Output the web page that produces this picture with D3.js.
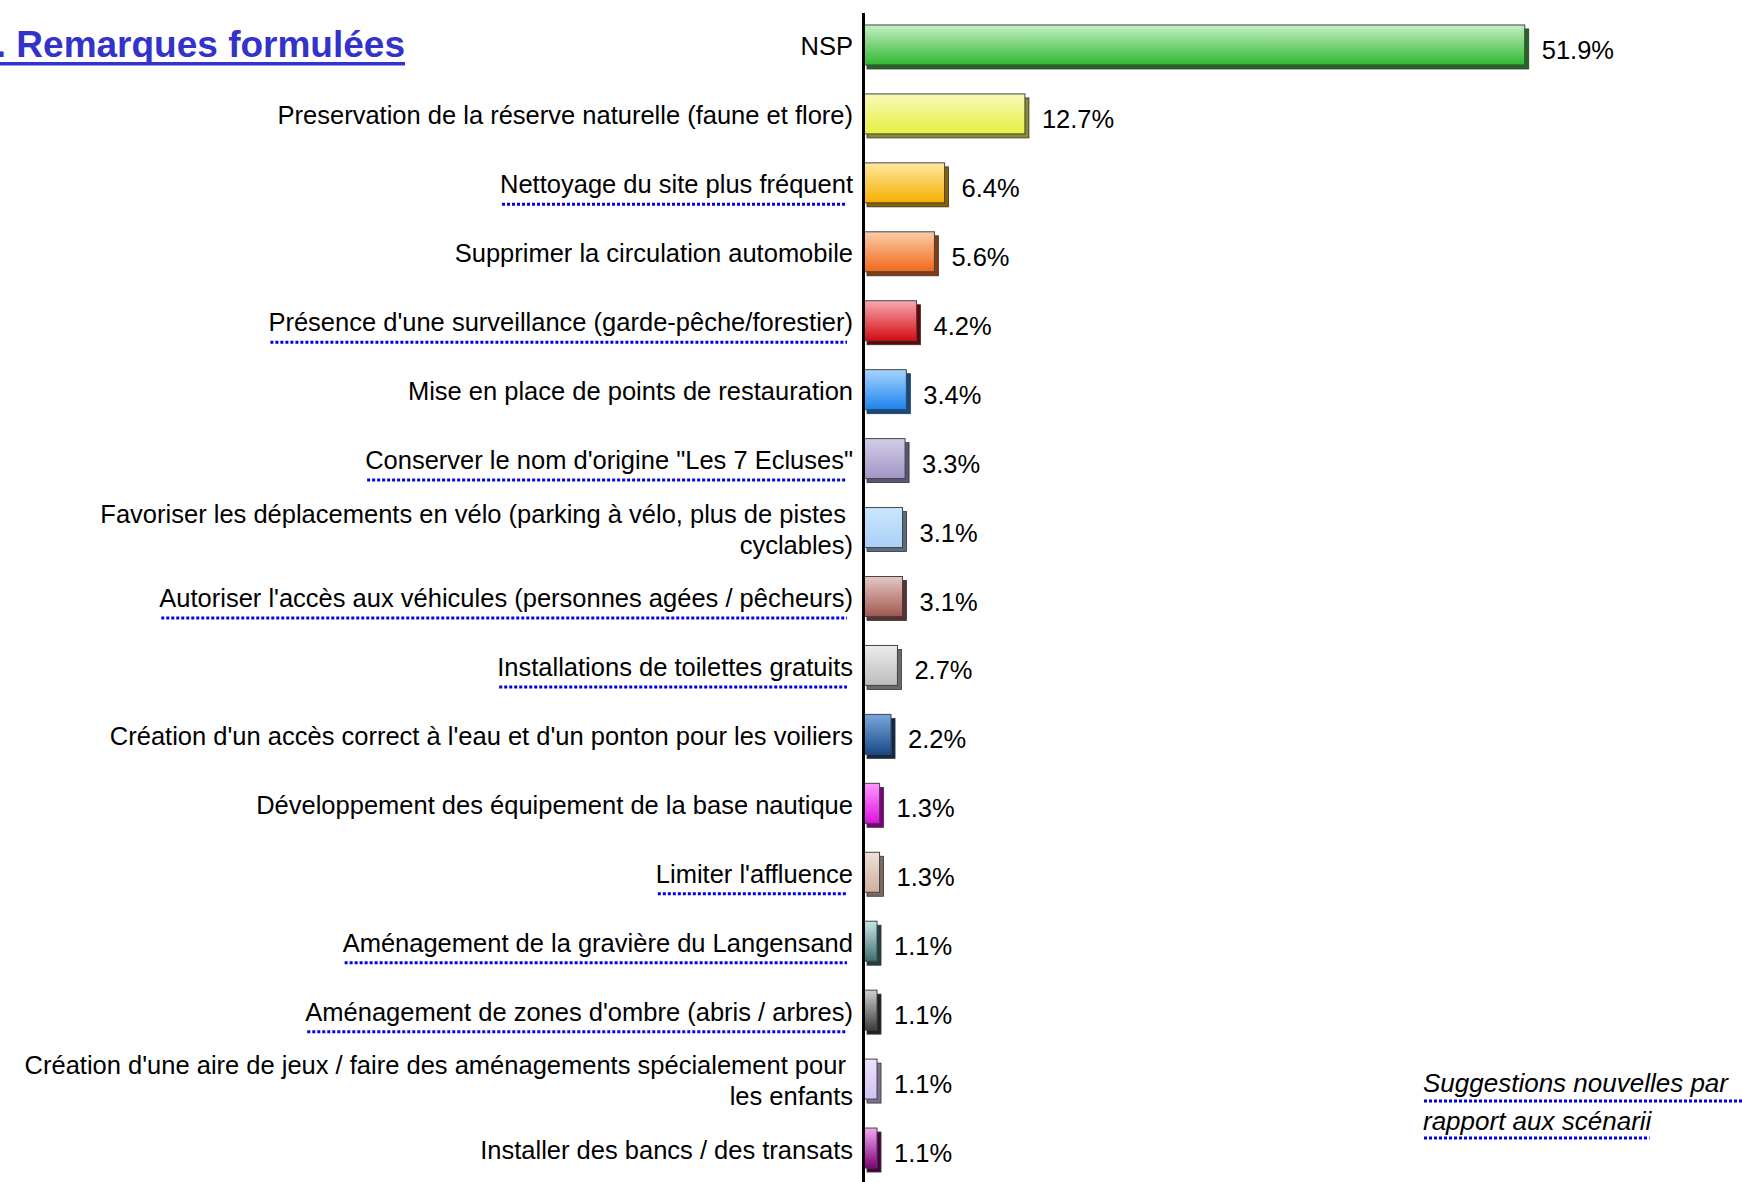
<!DOCTYPE html>
<html>
<head>
<meta charset="utf-8">
<script src="https://cdn.jsdelivr.net/npm/d3@7"></script>
<style>
  body { margin: 0; background: #fff; }
  svg { display: block; font-family: "Liberation Sans", Arial, sans-serif; }
</style>
</head>
<body>
<div class="board"></div>
<script>
// DATA
var categories = [
  "NSP",
  "Preservation de la réserve naturelle (faune et flore)",
  "Nettoyage du site plus fréquent",
  "Supprimer la circulation automobile",
  "Présence d'une surveillance (garde-pêche/forestier)",
  "Mise en place de points de restauration",
  "Conserver le nom d'origine \"Les 7 Ecluses\"",
  "Favoriser les déplacements en vélo (parking à vélo, plus de pistes |cyclables)",
  "Autoriser l'accès aux véhicules (personnes agées / pêcheurs)",
  "Installations de toilettes gratuits",
  "Création d'un accès correct à l'eau et d'un ponton pour les voiliers",
  "Développement des équipement de la base nautique",
  "Limiter l'affluence",
  "Aménagement de la gravière du Langensand",
  "Aménagement de zones d'ombre (abris / arbres)",
  "Création d'une aire de jeux / faire des aménagements spécialement pour |les enfants",
  "Installer des bancs / des transats"
];
var values = [51.9, 12.7, 6.4, 5.6, 4.2, 3.4, 3.3, 3.1, 3.1, 2.7, 2.2, 1.3, 1.3, 1.1, 1.1, 1.1, 1.1];
// suggestions nouvelles (souligné en pointillé)
var isNew = [false, false, true, false, true, false, true, false, true, true, false, false, true, true, true, false, false];
var topColors = ["#c4f0c4", "#f6f9b8", "#ffe8a0", "#fcccaa", "#f8a8b0", "#a8d4ff", "#d4cce8", "#cce6ff", "#e4c8c4", "#ececec", "#78a8dc", "#ff98ff", "#f0e0d8", "#c8e6e6", "#d0d0d0", "#ece2fa", "#f4a8f4"];
var bottomColors = ["#30b830", "#e8f040", "#f4b000", "#f06818", "#d40c10", "#1a84ee", "#a096c4", "#a8d0f6", "#a05850", "#bcbcbc", "#184a86", "#e010e0", "#cfae9e", "#3e6e6e", "#3c3c3c", "#d2c2ee", "#80007a"];
var sideColors = ["#1e6a1e", "#8a8a30", "#8a6000", "#8a3a10", "#700008", "#0e4a90", "#5a5478", "#5a6a80", "#5a3030", "#6a6a6a", "#0a2a50", "#800080", "#7a6a60", "#234040", "#222222", "#7a7090", "#4a0046"];
var noteLines = ["Suggestions nouvelles par", "rapport aux scénarii"];
var title = "3. Remarques formulées";

var width = 1742, height = 1182;
var axisX = 863;

var svg = d3.select('.board').append('svg')
  .attr('width', width)
  .attr('height', height);

var defs = svg.append('defs');
categories.forEach(function (c, i) {
  var g = defs.append('linearGradient')
    .attr('id', 'grad' + i)
    .attr('x1', 0).attr('y1', 0).attr('x2', 0).attr('y2', 1);
  g.append('stop').attr('offset', '0%').attr('stop-color', topColors[i]);
  g.append('stop').attr('offset', '100%').attr('stop-color', bottomColors[i]);
});

// SCALES
var x = d3.scaleLinear().domain([0, 60]).range([axisX, axisX + 765]);
var y = d3.scaleBand()
  .domain(d3.range(categories.length))
  .range([12.5, 1184.5])
  .paddingInner(0.42)
  .paddingOuter(0.21);

var depth = 4;

// BARS
var bars = svg.selectAll('g.bar')
  .data(values)
  .enter()
  .append('g')
  .attr('class', 'bar');

// shadow / 3d side
bars.append('rect')
  .attr('x', function (d, i) { return x(0) + depth; })
  .attr('y', function (d, i) { return y(i) - 2 + depth; })
  .attr('width', function (d) { return x(d) - x(0); })
  .attr('height', y.bandwidth())
  .attr('fill', function (d, i) { return sideColors[i]; })
  .attr('stroke', '#333')
  .attr('stroke-width', 0.8);

bars.append('rect')
  .attr('x', x(0))
  .attr('y', function (d, i) { return y(i) - 2; })
  .attr('width', function (d) { return x(d) - x(0); })
  .attr('height', y.bandwidth())
  .attr('fill', function (d, i) { return 'url(#grad' + i + ')'; })
  .attr('stroke', '#444')
  .attr('stroke-width', 1);

// value labels
svg.selectAll('text.value')
  .data(values)
  .enter()
  .append('text')
  .attr('class', 'value')
  .attr('x', function (d) { return x(d) + 17; })
  .attr('y', function (d, i) { return y(i) + y.bandwidth() / 2 + 12; })
  .attr('font-size', 25.5)
  .attr('fill', '#000')
  .text(function (d) { return d.toFixed(1) + '%'; });

// AXIS
var axis = svg.append('g')
  .attr('transform', 'translate(' + axisX + ',0)')
  .call(d3.axisLeft(y).tickSize(0).tickSizeOuter(0).tickFormat(''));
axis.select('.domain').attr('stroke', '#000').attr('stroke-width', 3);

// category labels
var labelX = 853;
var lineH = 31;
categories.forEach(function (c, i) {
  var lines = c.split('|');
  var cy = y(i) + y.bandwidth() / 2;
  var first = cy - (lines.length - 1) * lineH / 2 + 8.5;
  var t = svg.append('text')
    .attr('text-anchor', 'end')
    .attr('font-size', 25.5)
    .attr('fill', '#000');
  lines.forEach(function (l, k) {
    t.append('tspan')
      .attr('x', labelX)
      .attr('y', first + k * lineH)
      .attr('xml:space', 'preserve')
      .style('white-space', 'pre')
      .text(l);
  });
  if (isNew[i]) {
    var bb = t.node().getBBox();
    svg.append('line')
      .attr('x1', bb.x + 2)
      .attr('x2', labelX - 6)
      .attr('y1', first + 11)
      .attr('y2', first + 11)
      .attr('stroke', '#0000ee')
      .attr('stroke-width', 3)
      .attr('stroke-dasharray', '3 2');
  }
});

// TITLE
var tt = svg.append('text')
  .attr('x', 405)
  .attr('y', 57)
  .attr('text-anchor', 'end')
  .attr('font-size', 37)
  .attr('font-weight', 'bold')
  .attr('fill', '#3333cc')
  .text(title);
var tb = tt.node().getBBox();
svg.append('rect')
  .attr('x', tb.x).attr('y', 62)
  .attr('width', tb.width).attr('height', 3.5)
  .attr('fill', '#3333cc');

// NOTE
noteLines.forEach(function (l, k) {
  var nt = svg.append('text')
    .attr('x', 1423)
    .attr('y', 1092 + k * 38)
    .attr('font-size', 26)
    .attr('font-style', 'italic')
    .attr('fill', '#000')
    .text(l);
  var nb = nt.node().getBBox();
  svg.append('line')
    .attr('x1', 1424)
    .attr('x2', k === 0 ? width : 1424 + nb.width - 4)
    .attr('y1', 1101 + k * 37)
    .attr('y2', 1101 + k * 37)
    .attr('stroke', '#0000ee')
    .attr('stroke-width', 3)
    .attr('stroke-dasharray', '3 2');
});
</script>
</body>
</html>
